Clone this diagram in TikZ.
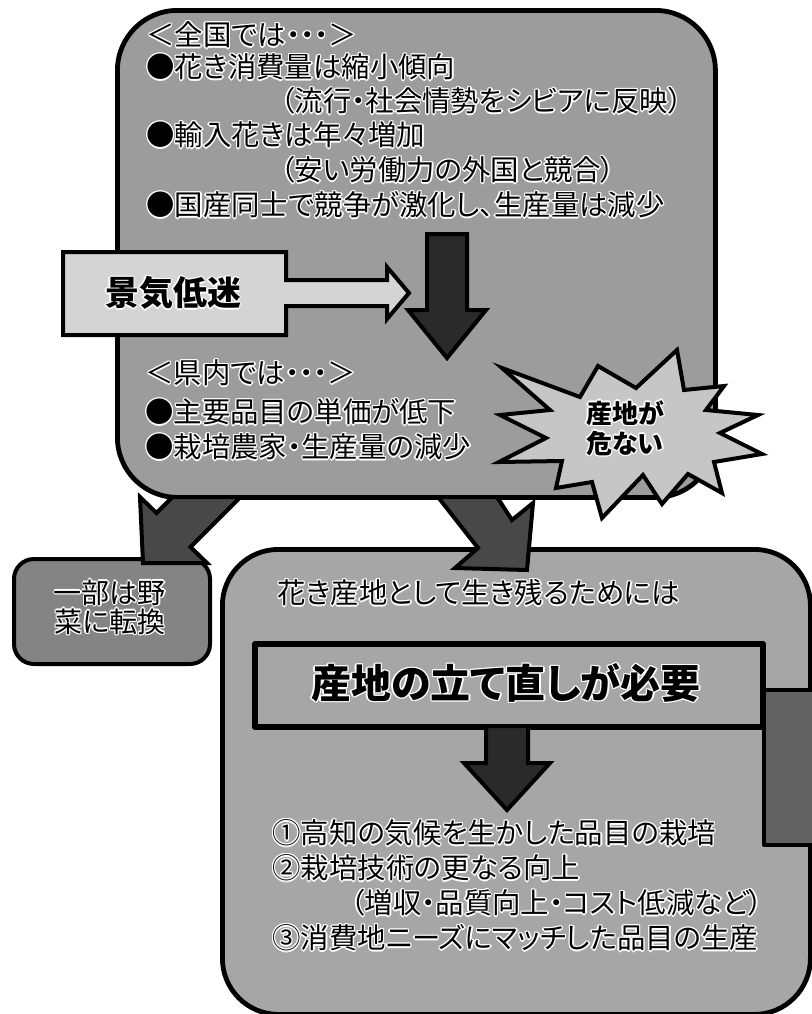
\documentclass[tikz,border=0pt]{standalone}
\usepackage{fontspec}
\newfontfamily\jp{Noto Sans CJK JP}[RawFeature=+palt]
\definecolor{boxgray}{HTML}{9C9C9C}
\definecolor{botgray}{HTML}{A6A6A6}
\definecolor{kikigray}{HTML}{D4D4D4}
\definecolor{stargray}{HTML}{C6C6C6}
\definecolor{smallgray}{HTML}{848484}
\definecolor{arrowdark}{HTML}{484848}
\definecolor{downdark}{HTML}{2A2A2A}
\definecolor{rectdark}{HTML}{626262}
\newlength\hw
\setlength\hw{0.7pt}
\newcommand\halo[1]{{\setbox0\hbox{#1}%
 \setbox2\hbox{%
  \rlap{\color{white}\kern\hw\copy0}%
  \rlap{\color{white}\kern-\hw\copy0}%
  \rlap{\color{white}\raise\hw\copy0}%
  \rlap{\color{white}\lower\hw\copy0}%
  \rlap{\color{white}\kern.7\hw\raise.7\hw\copy0}%
  \rlap{\color{white}\kern-.7\hw\raise.7\hw\copy0}%
  \rlap{\color{white}\kern.7\hw\lower.7\hw\copy0}%
  \rlap{\color{white}\kern-.7\hw\lower.7\hw\copy0}%
  \copy0}%
 \ht2=\ht0 \dp2=\dp0 \leavevmode\box2}}
\begin{document}
\begin{tikzpicture}[x=0.5pt,y=-0.5pt,
  bx/.style={draw=black,line width=2.4pt,line join=round,inner sep=0pt,anchor=north west},
  shp/.style={draw=black,line width=2pt,line join=miter},
  txt/.style={font=\jp\fontsize{14.2pt}{17pt}\selectfont,anchor=west,inner sep=0pt},
  ctxt/.style={font=\jp\fontsize{14.2pt}{17pt}\selectfont,anchor=center,inner sep=0pt,align=center},
 ]
\useasboundingbox (0,0) rectangle (811,1014);

% ---------- top box ----------
\node (top) [bx, fill=boxgray, rounded corners=30pt, minimum width=299pt, minimum height=243.5pt] at (115,8) {};

% keiki teimei box with outline arrow
\draw[shp, fill=kikigray] (63,252) -- (286,252) -- (286,280) -- (387,280) -- (387,267) -- (409,293)
  -- (387,319) -- (387,306) -- (286,306) -- (286,335) -- (63,335) -- cycle;
\node (keiki) [ctxt, font=\jp\bfseries\fontsize{17pt}{20pt}\selectfont] at (173,293) {\halo{景気低迷}};

% down arrow in the top box
\draw[shp, fill=downdark] (427,234) -- (467,234) -- (467,310) -- (486,310) -- (447,358) -- (408,310) -- (427,310) -- cycle;

\node (t1) [txt] at (146,35)  {\halo{＜全国では・・・＞}};
\node (t2) [txt] at (146,67)  {\halo{●花き消費量は縮小傾向}};
\node (t3) [txt] at (280,101) {\halo{（流行・社会情勢をシビアに反映）}};
\node (t4) [txt] at (146,135) {\halo{●輸入花きは年々増加}};
\node (t5) [txt] at (280,170) {\halo{（安い労働力の外国と競合）}};
\node (t6) [txt] at (146,205) {\halo{●国産同士で競争が激化し、生産量は減少}};
\node (t7) [txt] at (145,373) {\halo{＜県内では・・・＞}};
\node (t8) [txt] at (145,412) {\halo{●主要品目の単価が低下}};
\node (t9) [txt] at (145,447) {\halo{●栽培農家・生産量の減少}};

% star
\draw[shp, fill=stargray] (502,368) -- (580,397) -- (598,366) -- (636,388) -- (677,350) -- (684,390)
  -- (724,386) -- (706,410) -- (758,415) -- (720,433) -- (762,454) -- (714,462) -- (722,493)
  -- (688,474) -- (662,504) -- (643,475) -- (602,518) -- (592,482) -- (556,488) -- (562,461)
  -- (499,462) -- (546,438) -- (500,415) -- (550,410) -- cycle;
\node (star) [ctxt, font=\jp\bfseries\fontsize{13pt}{15pt}\selectfont] at (625,428) {\halo{産地が}\\\halo{危ない}};

% ---------- bottom box ----------
\node (bot) [bx, fill=botgray, rounded corners=28pt, minimum width=294pt, minimum height=232.5pt] at (220,547) {};

% small box
\node (sm) [bx, line width=2pt, fill=smallgray, rounded corners=10pt, minimum width=98pt, minimum height=52.5pt] at (12,557) {};
\node (smt) [ctxt, font=\jp\fontsize{14pt}{14.5pt}\selectfont] at (110,607) {\halo{一部は野}\\\halo{菜に転換}};

% dark side rectangle
\node (side) [bx, line width=2pt, fill=rectdark, minimum width=34pt, minimum height=77.5pt] at (762,688) {};

% need rectangle
\node (need) [bx, line width=3pt, fill=botgray, minimum width=254pt, minimum height=41.5pt] at (252,641) {};
\node (needt) [ctxt, font=\jp\bfseries\fontsize{20pt}{24pt}\selectfont] at (506,683) {\halo{産地の立て直しが必要}};

% down arrow in the bottom box
\draw[shp, fill=downdark] (486,726) -- (528,726) -- (528,763) -- (550,763) -- (507,810) -- (464,763) -- (486,763) -- cycle;

\node (b1) [txt] at (277,593) {\halo{花き産地として生き残るためには}};
\node (b2) [txt] at (272,833) {\halo{①高知の気候を生かした品目の栽培}};
\node (b3) [txt] at (272,868) {\halo{②栽培技術の更なる向上}};
\node (b4) [txt] at (350,903) {\halo{（増収・品質向上・コスト低減など）}};
\node (b5) [txt] at (272,938) {\halo{③消費地ニーズにマッチした品目の生産}};

% ---------- diagonal arrows ----------
\draw[shp, fill=arrowdark] (140,497) -- (143,563) -- (207,563) -- (190.5,547) -- (240.5,497) -- (172.5,497) -- (156.5,513) -- cycle;
\draw[shp, fill=arrowdark] (438,497) -- (497,497) -- (512,520) -- (533,503) -- (527,570) -- (455,568) -- (478,548) -- cycle;
\end{tikzpicture}
\end{document}
